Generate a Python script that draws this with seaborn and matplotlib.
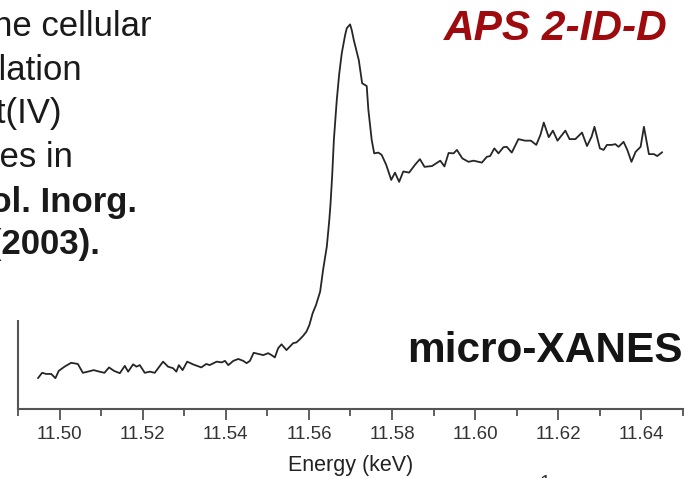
import numpy as np
import pandas as pd
import matplotlib
matplotlib.use("Agg")
import matplotlib.pyplot as plt
from matplotlib.patches import Rectangle
import seaborn as sns

# ---- data ----
energy_kev = [
    11.4948, 11.4958, 11.4968, 11.4980, 11.4990, 11.4998, 11.5012, 11.5028, 11.5044, 11.5056,
    11.5068, 11.5082, 11.5096, 11.5108, 11.5119, 11.5131, 11.5145, 11.5157, 11.5165, 11.5177,
    11.5185, 11.5193, 11.5205, 11.5217, 11.5229, 11.5249, 11.5261, 11.5273, 11.5281, 11.5287,
    11.5296, 11.5307, 11.5321, 11.5341, 11.5353, 11.5361, 11.5378, 11.5390, 11.5398, 11.5406,
    11.5418, 11.5430, 11.5442, 11.5450, 11.5458, 11.5467, 11.5478, 11.5490, 11.5502, 11.5510,
    11.5518, 11.5526, 11.5534, 11.5546, 11.5554, 11.5562, 11.5570, 11.5578, 11.5586, 11.5594,
    11.5601, 11.5609, 11.5617, 11.5627, 11.5634, 11.5643, 11.5649, 11.5652, 11.5656, 11.5660,
    11.5667, 11.5673, 11.5679, 11.5687, 11.5691, 11.5699, 11.5703, 11.5708, 11.5715, 11.5720,
    11.5728, 11.5739, 11.5743, 11.5751, 11.5757, 11.5767, 11.5775, 11.5786, 11.5798, 11.5807,
    11.5817, 11.5827, 11.5841, 11.5855, 11.5867, 11.5878, 11.5896, 11.5916, 11.5926, 11.5936,
    11.5948, 11.5956, 11.5969, 11.5984, 11.5996, 11.6016, 11.6028, 11.6036, 11.6046, 11.6056,
    11.6068, 11.6076, 11.6088, 11.6104, 11.6120, 11.6134, 11.6147, 11.6157, 11.6165, 11.6177,
    11.6187, 11.6198, 11.6217, 11.6227, 11.6241, 11.6257, 11.6269, 11.6280, 11.6287, 11.6300,
    11.6309, 11.6317, 11.6329, 11.6337, 11.6345, 11.6357, 11.6366, 11.6376, 11.6386, 11.6398,
    11.6406, 11.6418, 11.6430, 11.6438, 11.6450,
]
absorbance = [
    0.080, 0.094, 0.091, 0.091, 0.080, 0.099, 0.110, 0.120, 0.117, 0.094,
    0.097, 0.101, 0.097, 0.094, 0.108, 0.099, 0.093, 0.112, 0.097, 0.116,
    0.110, 0.114, 0.094, 0.097, 0.094, 0.123, 0.110, 0.106, 0.097, 0.114,
    0.101, 0.123, 0.116, 0.108, 0.117, 0.114, 0.123, 0.121, 0.125, 0.114,
    0.125, 0.130, 0.125, 0.119, 0.125, 0.146, 0.143, 0.140, 0.145, 0.140,
    0.134, 0.158, 0.168, 0.153, 0.162, 0.171, 0.173, 0.181, 0.190, 0.201,
    0.218, 0.249, 0.270, 0.305, 0.361, 0.422, 0.491, 0.534, 0.608, 0.699,
    0.803, 0.872, 0.924, 0.971, 0.989, 0.999, 0.984, 0.958, 0.928, 0.906,
    0.846, 0.839, 0.777, 0.699, 0.664, 0.666, 0.660, 0.634, 0.595, 0.614,
    0.590, 0.617, 0.614, 0.634, 0.649, 0.629, 0.631, 0.645, 0.630, 0.665,
    0.664, 0.673, 0.651, 0.642, 0.645, 0.640, 0.655, 0.657, 0.677, 0.664,
    0.680, 0.681, 0.666, 0.701, 0.697, 0.697, 0.686, 0.712, 0.744, 0.706,
    0.723, 0.697, 0.723, 0.701, 0.701, 0.718, 0.683, 0.707, 0.733, 0.677,
    0.673, 0.686, 0.686, 0.688, 0.681, 0.694, 0.673, 0.642, 0.668, 0.681,
    0.733, 0.662, 0.662, 0.657, 0.667,
]
major_ticks = [11.50, 11.52, 11.54, 11.56, 11.58, 11.60, 11.62, 11.64]
minor_ticks = [11.49, 11.51, 11.53, 11.55, 11.57, 11.59, 11.61, 11.63, 11.65]
tick_labels = ["11.50", "11.52", "11.54", "11.56", "11.58", "11.60", "11.62", "11.64"]
x_label = "Energy (keV)"
note_lines = ["Probing the cellular", "accumulation", "of Pt(IV)",
              "complexes in", "J. Biol. Inorg.", "Chem. 8, 726 (2003)."]
note_bold = [False, False, False, False, True, True]

df = pd.DataFrame({"Energy": energy_kev, "Absorbance": absorbance})

sns.set_theme(style="white")
plt.rcParams["font.family"] = ["Liberation Sans", "DejaVu Sans"]

W, H = 686, 478
fig = plt.figure(figsize=(W / 100, H / 100), dpi=100)
fig.patch.set_facecolor("white")

ax = fig.add_axes([18 / W, 69 / H, 665 / W, 409 / H])
ax.set_facecolor("none")
sns.lineplot(data=df, x="Energy", y="Absorbance", ax=ax, sort=False,
             estimator=None, color="#262626", linewidth=1.3)

ax.set_xlim(11.49, 11.65)
ax.set_ylim(0, 409 / 385)
ax.set_xticks(major_ticks)
ax.set_xticklabels(tick_labels)
ax.set_xticks(minor_ticks, minor=True)
ax.set_yticks([])
ax.set_ylabel("")
ax.set_xlabel(x_label, fontsize=15.5, color="#222222", labelpad=9)
ax.tick_params(axis="x", which="major", length=8, width=1.2, color="#444444",
               labelsize=13.5, labelcolor="#333333", pad=4, direction="out",
               bottom=True)
ax.tick_params(axis="x", which="minor", length=5, width=1.2, color="#444444",
               direction="out", bottom=True)
for side in ["top", "right"]:
    ax.spines[side].set_visible(False)
for side in ["left", "bottom"]:
    ax.spines[side].set_color("#555555")
    ax.spines[side].set_linewidth(1.5)

# white text box of the slide covering the upper-left part
fig.patches.append(Rectangle((0, 1 - 320 / H), 178 / W, 320 / H,
                             transform=fig.transFigure, facecolor="white",
                             edgecolor="none", zorder=1))

ends = [152, 82, 61, 73, 137, 100]
bases = [36, 80, 123, 167, 212, 254]
for txt, bold, xe, yb in zip(note_lines, note_bold, ends, bases):
    fig.text(xe / W, 1 - yb / H, txt, ha="right", va="baseline", fontsize=25,
             fontweight="bold" if bold else "normal", color="#1a1a1a", zorder=3)

fig.text(668 / W, 1 - 29 / H, "APS 2-ID-D", ha="right", va="center",
         fontsize=30.5, fontweight="bold", fontstyle="italic", color="#9e0b0f", zorder=3)
fig.text(683 / W, 1 - 351 / H, "micro-XANES", ha="right", va="center",
         fontsize=30.5, fontweight="bold", color="#151515", zorder=3)
fig.text(545 / W, 1 - 475 / H, "1", ha="center", va="top", fontsize=14,
         color="#333333", zorder=3)

fig.savefig("out.png", dpi=100, facecolor="white")
